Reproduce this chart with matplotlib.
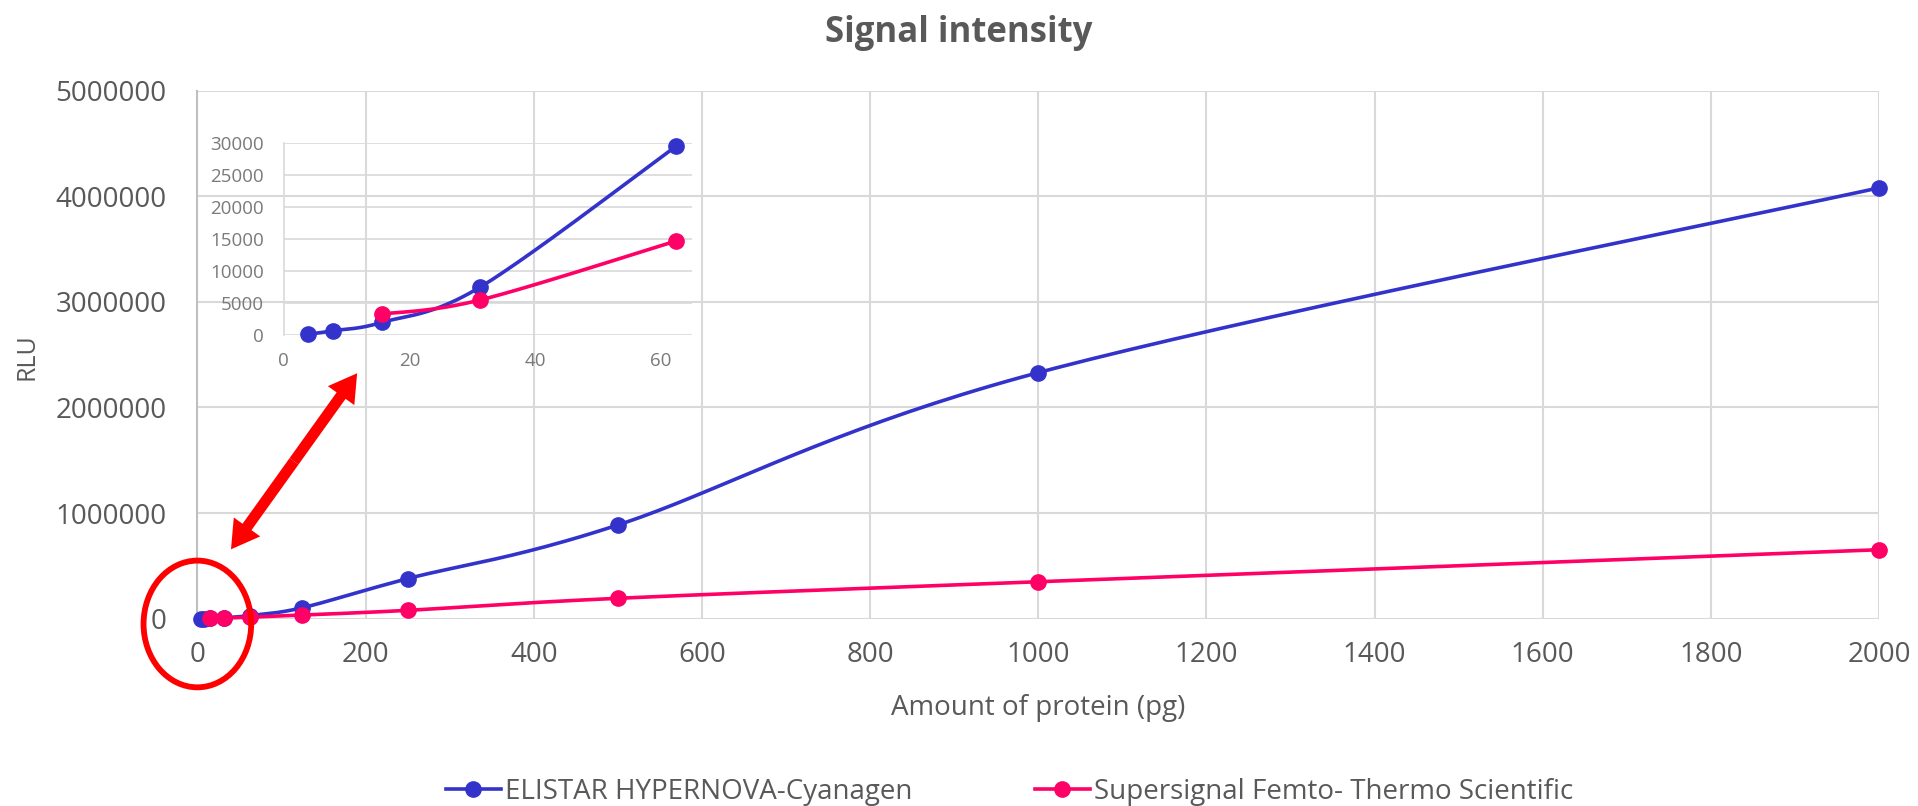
import numpy as np
import matplotlib
matplotlib.use("Agg")
import matplotlib.pyplot as plt
from matplotlib.lines import Line2D
from matplotlib.patches import Ellipse, FancyArrowPatch

plt.rcParams['font.family'] = ['Open Sans', 'DejaVu Sans']

# amount of protein (pg), doubling dilution series
pg_blue = [3.9, 7.8, 15.6, 31.25, 62.5, 125, 250, 500, 1000, 2000]
rlu_blue = [150, 700, 2000, 7500, 29500, 104000, 379000, 887000, 2330000, 4080000]
pg_pink = [15.6, 31.25, 62.5, 125, 250, 500, 1000, 2000]
rlu_pink = [3300, 5500, 14700, 35000, 79000, 193000, 350000, 653000]

# inset only shows the low end (<= 62.5 pg)
inset_max = 62.5

name_blue = "ELISTAR HYPERNOVA-Cyanagen"
name_pink = "Supersignal Femto- Thermo Scientific"

xticks_main = [0, 200, 400, 600, 800, 1000, 1200, 1400, 1600, 1800, 2000]
yticks_main = [0, 1000000, 2000000, 3000000, 4000000, 5000000]
xticks_inset = [0, 20, 40, 60]
yticks_inset = [0, 5000, 10000, 15000, 20000, 25000, 30000]

BLUE = '#3333cc'
PINK = '#ff0066'
GRID = '#d9d9d9'
TXT = '#595959'
LW = 2.6
MS = 11


def smooth(xs, ys, sx, sy, n=40):
    # excel-like smoothed line: catmull-rom bezier in screen units
    p = np.column_stack([np.asarray(xs, float) * sx, np.asarray(ys, float) * sy])
    out = []
    for i in range(len(p) - 1):
        p0 = p[max(i - 1, 0)]
        p1 = p[i]
        p2 = p[i + 1]
        p3 = p[min(i + 2, len(p) - 1)]
        c1 = p1 + (p2 - p0) / 6.0
        c2 = p2 - (p3 - p1) / 6.0
        t = np.linspace(0, 1, n)[:, None]
        seg = ((1 - t) ** 3) * p1 + 3 * ((1 - t) ** 2) * t * c1 + 3 * (1 - t) * t ** 2 * c2 + t ** 3 * p2
        out.append(seg)
    out = np.vstack(out)
    return out[:, 0] / sx, out[:, 1] / sy


fig = plt.figure(figsize=(19.18, 8.06), dpi=100)
ax = fig.add_axes([0.1029, 0.2324, 0.8768, 0.6551])
ax.set_xlim(0, 2000)
ax.set_ylim(0, 5000000)

sx = 1682 / 2000.0
sy = 528 / 5000000.0
for xs, ys, c in [(pg_blue, rlu_blue, BLUE), (pg_pink, rlu_pink, PINK)]:
    lx, ly = smooth(xs, ys, sx, sy)
    ax.plot(lx, ly, color=c, lw=LW, zorder=3, clip_on=False)
    ax.plot(xs, ys, 'o', color=c, ms=MS, zorder=4, clip_on=False)

ax.set_xticks(xticks_main)
ax.set_xticklabels([str(v) for v in xticks_main])
ax.set_yticks(yticks_main)
ax.set_yticklabels([str(v) for v in yticks_main])
ax.tick_params(length=0, labelsize=20, labelcolor=TXT)
ax.tick_params(axis='y', pad=22)
ax.tick_params(axis='x', pad=16)
ax.grid(True, color=GRID, lw=1.5)
ax.set_axisbelow(True)
for s in ['top', 'right', 'bottom']:
    ax.spines[s].set_visible(False)
ax.spines['left'].set_color('#bfbfbf')
ax.spines['left'].set_linewidth(1.5)

ax.set_xlabel("Amount of protein (pg)", fontsize=20, color=TXT, labelpad=18)
fig.text(0.0143, 0.558, "RLU", rotation=90, fontsize=18, color=TXT, ha='center', va='center')
fig.text(0.4997, 0.959, "Signal intensity", fontsize=25, fontweight='bold', color=TXT,
         ha='center', va='center')

# inset zoom on low amounts
ins = fig.add_axes([0.1479, 0.584, 0.2130, 0.239])
ins.patch.set_alpha(0)
ins.set_xlim(0, 65)
ins.set_ylim(0, 30000)
isx = 408.6 / 65.0
isy = 192.6 / 30000.0
for xs, ys, c in [(pg_blue, rlu_blue, BLUE), (pg_pink, rlu_pink, PINK)]:
    xs = np.array(xs)
    ys = np.array(ys)
    keep = xs <= inset_max
    lx, ly = smooth(xs[keep], ys[keep], isx, isy)
    ins.plot(lx, ly, color=c, lw=LW, zorder=3, clip_on=False)
    ins.plot(xs[keep], ys[keep], 'o', color=c, ms=MS, zorder=4, clip_on=False)
ins.set_xticks(xticks_inset)
ins.set_xticklabels([str(v) for v in xticks_inset])
ins.set_yticks(yticks_inset)
ins.set_yticklabels([str(v) for v in yticks_inset])
ins.tick_params(length=0, labelsize=13.5, labelcolor='#7a7a7a')
ins.tick_params(axis='y', pad=14)
ins.tick_params(axis='x', pad=12)
ins.grid(True, axis='y', color=GRID, lw=1.2)
for s in ['top', 'right', 'bottom']:
    ins.spines[s].set_visible(False)
ins.spines['left'].set_color(GRID)
ins.spines['left'].set_linewidth(1.2)

# red callout: ellipse round the origin and double arrow to the inset
ell = Ellipse((0, -50000), 128, 1200000, fill=False, ec='#ff0000', lw=4.2,
              clip_on=False, zorder=6)
ax.add_patch(ell)
tip_lo = (40, 657000)
tip_hi = (190, 2324000)
mid = ((tip_lo[0] + tip_hi[0]) / 2, (tip_lo[1] + tip_hi[1]) / 2)
for tip in (tip_lo, tip_hi):
    a = FancyArrowPatch(mid, tip, arrowstyle='simple,head_length=0.55,head_width=0.65,tail_width=0.22',
                        mutation_scale=36, fc='#ff0000', ec='none', lw=0, clip_on=False,
                        zorder=6, shrinkA=0, shrinkB=0)
    ax.add_patch(a)

handles = [Line2D([], [], color=BLUE, lw=LW, marker='o', ms=MS),
           Line2D([], [], color=PINK, lw=LW, marker='o', ms=MS)]
leg = fig.legend(handles, [name_blue, name_pink], loc='center', ncol=2,
                 bbox_to_anchor=(0.5263, 0.0178), frameon=False, fontsize=20,
                 handlelength=1.98, handletextpad=0.15, columnspacing=4.4)
for t in leg.get_texts():
    t.set_color(TXT)

fig.savefig("out.png", dpi=100)
